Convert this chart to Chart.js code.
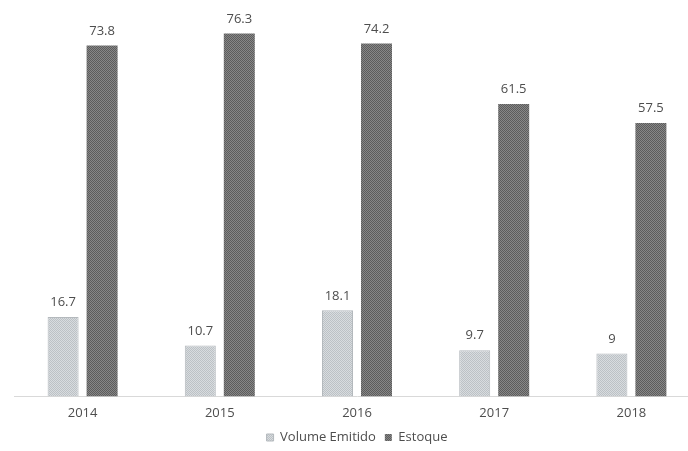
<!DOCTYPE html>
<html>
<head>
<meta charset="utf-8">
<script src="https://cdn.jsdelivr.net/npm/chart.js@4/dist/chart.umd.min.js"></script>
<style>
    html, body { margin: 0; padding: 0; background: #fff; overflow: hidden; }
    #wrap { width: 702px; height: 454px; }
</style>
</head>
<body>
<div id="wrap"><canvas id="myChart" width="702" height="454"></canvas></div>
<script>
const anos = ['2014', '2015', '2016', '2017', '2018']
const volumeEmitido = [16.7, 10.7, 18.1, 9.7, 9]
const estoque = [73.8, 76.3, 74.2, 61.5, 57.5]

const FONT = '"Open Sans", "Liberation Sans", sans-serif'
const TEXT = '#4d4d4d'

// textura pontilhada das barras
function makePattern(c1, c2) {
    const p = document.createElement('canvas')
    p.width = 2
    p.height = 2
    const g = p.getContext('2d')
    g.fillStyle = c1
    g.fillRect(0, 0, 2, 2)
    g.fillStyle = c2
    g.fillRect(0, 0, 1, 1)
    g.fillRect(1, 1, 1, 1)
    return g.createPattern(p, 'repeat')
}

const lightFill = makePattern('#d8dcdf', '#bcc1c5')
const darkFill = makePattern('#878787', '#5c5c5c')

// rótulos de valor acima das barras
const valueLabels = {
    id: 'valueLabels',
    afterDatasetsDraw(chart) {
        const ctx = chart.ctx
        ctx.save()
        ctx.font = `13px ${FONT}`
        ctx.fillStyle = TEXT
        ctx.textAlign = 'center'
        ctx.textBaseline = 'bottom'
        chart.data.datasets.forEach((ds, i) => {
            chart.getDatasetMeta(i).data.forEach((bar, j) => {
                ctx.fillText(String(ds.data[j]), bar.x, bar.y - 8)
            })
        })
        ctx.restore()
    }
}

const ctx = document.getElementById('myChart').getContext('2d')
new Chart(ctx, {
    type: 'bar',
    data: {
        labels: anos,
        datasets: [
            {
                label: 'Volume Emitido',
                data: volumeEmitido,
                backgroundColor: lightFill,
                borderColor: '#b4b9bd',
                borderWidth: 1,
                barPercentage: 0.795,
                categoryPercentage: 0.5685
            },
            {
                label: 'Estoque',
                data: estoque,
                backgroundColor: darkFill,
                borderWidth: 0,
                barPercentage: 0.795,
                categoryPercentage: 0.5685
            }
        ]
    },
    options: {
        responsive: false,
        animation: false,
        layout: { padding: { top: 16, left: 14, right: 2, bottom: 0 } },
        scales: {
            x: {
                grid: { display: false },
                border: { color: '#d9d9d9', width: 1 },
                ticks: { color: TEXT, font: { family: FONT, size: 13 }, padding: 1 }
            },
            y: { display: false, min: 0, max: 80 }
        },
        plugins: {
            legend: {
                position: 'bottom',
                labels: {
                    color: TEXT,
                    font: { family: FONT, size: 13 },
                    boxWidth: 7,
                    boxHeight: 7,
                    padding: 9
                }
            },
            tooltip: { enabled: false }
        }
    },
    plugins: [valueLabels]
})
</script>
</body>
</html>
